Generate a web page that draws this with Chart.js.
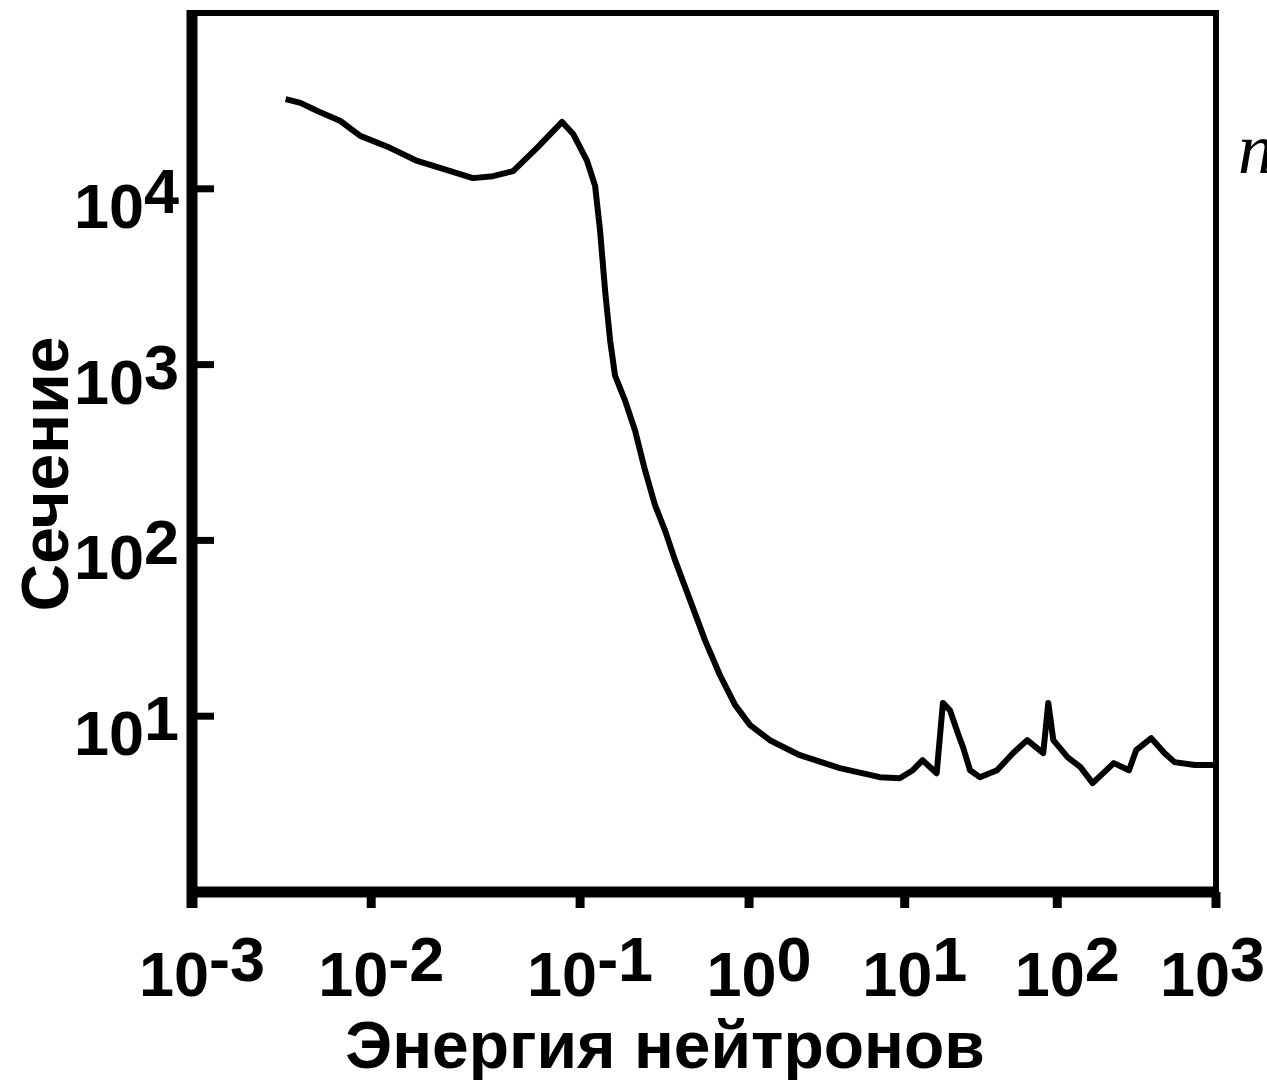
<!DOCTYPE html>
<html>
<head>
<meta charset="utf-8">
<script src="https://cdn.jsdelivr.net/npm/chart.js@4.4.0/dist/chart.umd.min.js"></script>
<style>
  html, body { margin: 0; padding: 0; background: #fff; }
  #wrap { width: 1267px; height: 1080px; }
</style>
</head>
<body>
<div id="wrap"><canvas id="chart"></canvas></div>
<script>
// neutron energy (eV) and cross-section (barn)
const energy = [
  0.00333, 0.00403, 0.00501, 0.00673, 0.00869, 0.0123, 0.0166, 0.0221, 0.0307, 0.0383,
  0.0478, 0.0622, 0.082, 0.0926, 0.110, 0.1227, 0.1313, 0.1406, 0.1506, 0.161,
  0.1846, 0.2115, 0.2424, 0.278, 0.318, 0.365, 0.448, 0.549, 0.673, 0.826,
  1.015, 1.36, 2.12, 3.83, 6.92, 9.29, 11.3, 13.1, 16.2, 17.8,
  19.8, 22.3, 24.1, 26.8, 31.1, 40.3, 51.4, 63.5, 80.9, 87.3,
  94.2, 116, 140, 167, 227, 283, 314, 391, 473, 548,
  735, 986
];
const crossSection = [
  32400, 30800, 27700, 24300, 20000, 17100, 14400, 13000, 11500, 11800,
  12600, 17100, 24000, 20500, 14400, 10400, 5770, 2630, 1370, 867,
  624, 422, 250, 158, 114, 77, 45.6, 27, 17.1, 11.6,
  8.9, 7.3, 6.0, 5.07, 4.50, 4.44, 4.93, 5.62, 4.74, 11.9,
  10.8, 8.0, 6.67, 4.93, 4.50, 4.93, 6.17, 7.31, 6.17, 11.9,
  7.31, 5.85, 5.13, 4.16, 5.41, 4.93, 6.41, 7.50, 6.17, 5.48,
  5.28, 5.28
];
const xTickExps = [-3, -2, -1, 0, 1, 2, 3];
const yTickExps = [1, 2, 3, 4];
const xTitle = 'Энергия нейтронов';
const yTitle = 'Сечение';
const sideNote = 'n';

// the printed x axis is not evenly spaced: where each decade sits (0..1)
const decadeStops = [0, 0.175, 0.379, 0.544, 0.696, 0.845, 1];

class WarpedLogScale extends Chart.LogarithmicScale {
  getPixelForValue(value) {
    if (value === undefined || value === 0) value = this.min;
    if (value === null || isNaN(value)) return NaN;
    const lv = Math.log10(value) - Math.log10(this.min);
    const i = Math.max(0, Math.min(decadeStops.length - 2, Math.floor(lv)));
    const dec = decadeStops[i] + (lv - i) * (decadeStops[i + 1] - decadeStops[i]);
    return this.getPixelForDecimal(dec);
  }
}
WarpedLogScale.id = 'warpedLog';
WarpedLogScale.defaults = Chart.LogarithmicScale.defaults;
Chart.register(WarpedLogScale);

const FONT = '"Liberation Sans", Arial, sans-serif';

function drawPower(ctx, exp, x, y, align, raise, maxRight) {
  const base = '10', sup = String(exp);
  const w1 = ctx.measureText(base).width;
  const w2 = ctx.measureText(sup).width;
  let x0 = x;
  if (align === 'center') x0 = x - (w1 + w2) / 2;
  if (align === 'right') x0 = x - (w1 + w2);
  if (maxRight && x0 + w1 + w2 > maxRight) x0 = maxRight - w1 - w2;
  ctx.fillText(base, x0, y);
  ctx.fillText(sup, x0 + w1, y - raise);
}

const axesPlugin = {
  id: 'printedAxes',
  afterDraw(chart) {
    const { ctx, chartArea: a, scales } = chart;
    const xs = scales.x, ys = scales.y;
    ctx.save();
    ctx.strokeStyle = '#000';
    ctx.fillStyle = '#000';
    ctx.lineCap = 'butt';

    // frame: thin top/right, heavy left/bottom
    ctx.lineWidth = 6;
    ctx.beginPath();
    ctx.moveTo(a.left, a.top);
    ctx.lineTo(a.right, a.top);
    ctx.lineTo(a.right, a.bottom);
    ctx.stroke();
    ctx.lineWidth = 11;
    ctx.beginPath();
    ctx.moveTo(a.left, a.top - 3);
    ctx.lineTo(a.left, a.bottom + 16);
    ctx.moveTo(a.left, a.bottom);
    ctx.lineTo(a.right + 3, a.bottom);
    ctx.stroke();

    // x ticks hang below the axis
    ctx.lineWidth = 9;
    xTickExps.forEach(e => {
      const px = xs.getPixelForValue(Math.pow(10, e));
      ctx.beginPath();
      ctx.moveTo(px, a.bottom);
      ctx.lineTo(px, a.bottom + 16);
      ctx.stroke();
    });
    // y ticks point into the plot
    ctx.lineWidth = 7;
    yTickExps.forEach(e => {
      const py = ys.getPixelForValue(Math.pow(10, e));
      ctx.beginPath();
      ctx.moveTo(a.left, py);
      ctx.lineTo(a.left + 22, py);
      ctx.stroke();
    });

    // tick labels
    ctx.font = 'bold 63px ' + FONT;
    ctx.textBaseline = 'alphabetic';
    ctx.textAlign = 'left';
    xTickExps.forEach(e => {
      const px = xs.getPixelForValue(Math.pow(10, e));
      drawPower(ctx, e, px + 10, a.bottom + 104, 'center', 15, 1265);
    });
    yTickExps.forEach(e => {
      const py = ys.getPixelForValue(Math.pow(10, e));
      drawPower(ctx, e, a.left - 13, py + 39, 'right', 15);
    });

    // axis titles
    ctx.textAlign = 'center';
    ctx.font = 'bold 66px ' + FONT;
    ctx.fillText(xTitle, 665, 1068);
    ctx.save();
    ctx.translate(68, 474);
    ctx.rotate(-Math.PI / 2);
    ctx.font = 'bold 66px ' + FONT;
    ctx.fillText(yTitle, 0, 0);
    ctx.restore();

    // clipped italic letter at the right edge
    ctx.textAlign = 'left';
    ctx.font = 'italic 72px "Liberation Serif", serif';
    ctx.fillText(sideNote, 1238, 173);
    ctx.restore();
  }
};

const ctx = document.getElementById('chart').getContext('2d');
new Chart(ctx, {
  type: 'line',
  data: {
    datasets: [{
      data: energy.map((e, i) => ({ x: e, y: crossSection[i] })),
      borderColor: '#000',
      borderWidth: 6,
      borderJoinStyle: 'round',
      pointRadius: 0,
      tension: 0,
      fill: false
    }]
  },
  options: {
    responsive: true,
    maintainAspectRatio: false,
    animation: false,
    layout: { padding: { left: 192, right: 51, top: 13, bottom: 188 } },
    plugins: { legend: { display: false }, tooltip: { enabled: false } },
    scales: {
      x: { type: 'warpedLog', min: 0.001, max: 1000, display: false },
      y: { type: 'logarithmic', min: 1, max: 100000, display: false }
    }
  },
  plugins: [axesPlugin]
});
</script>
</body>
</html>
